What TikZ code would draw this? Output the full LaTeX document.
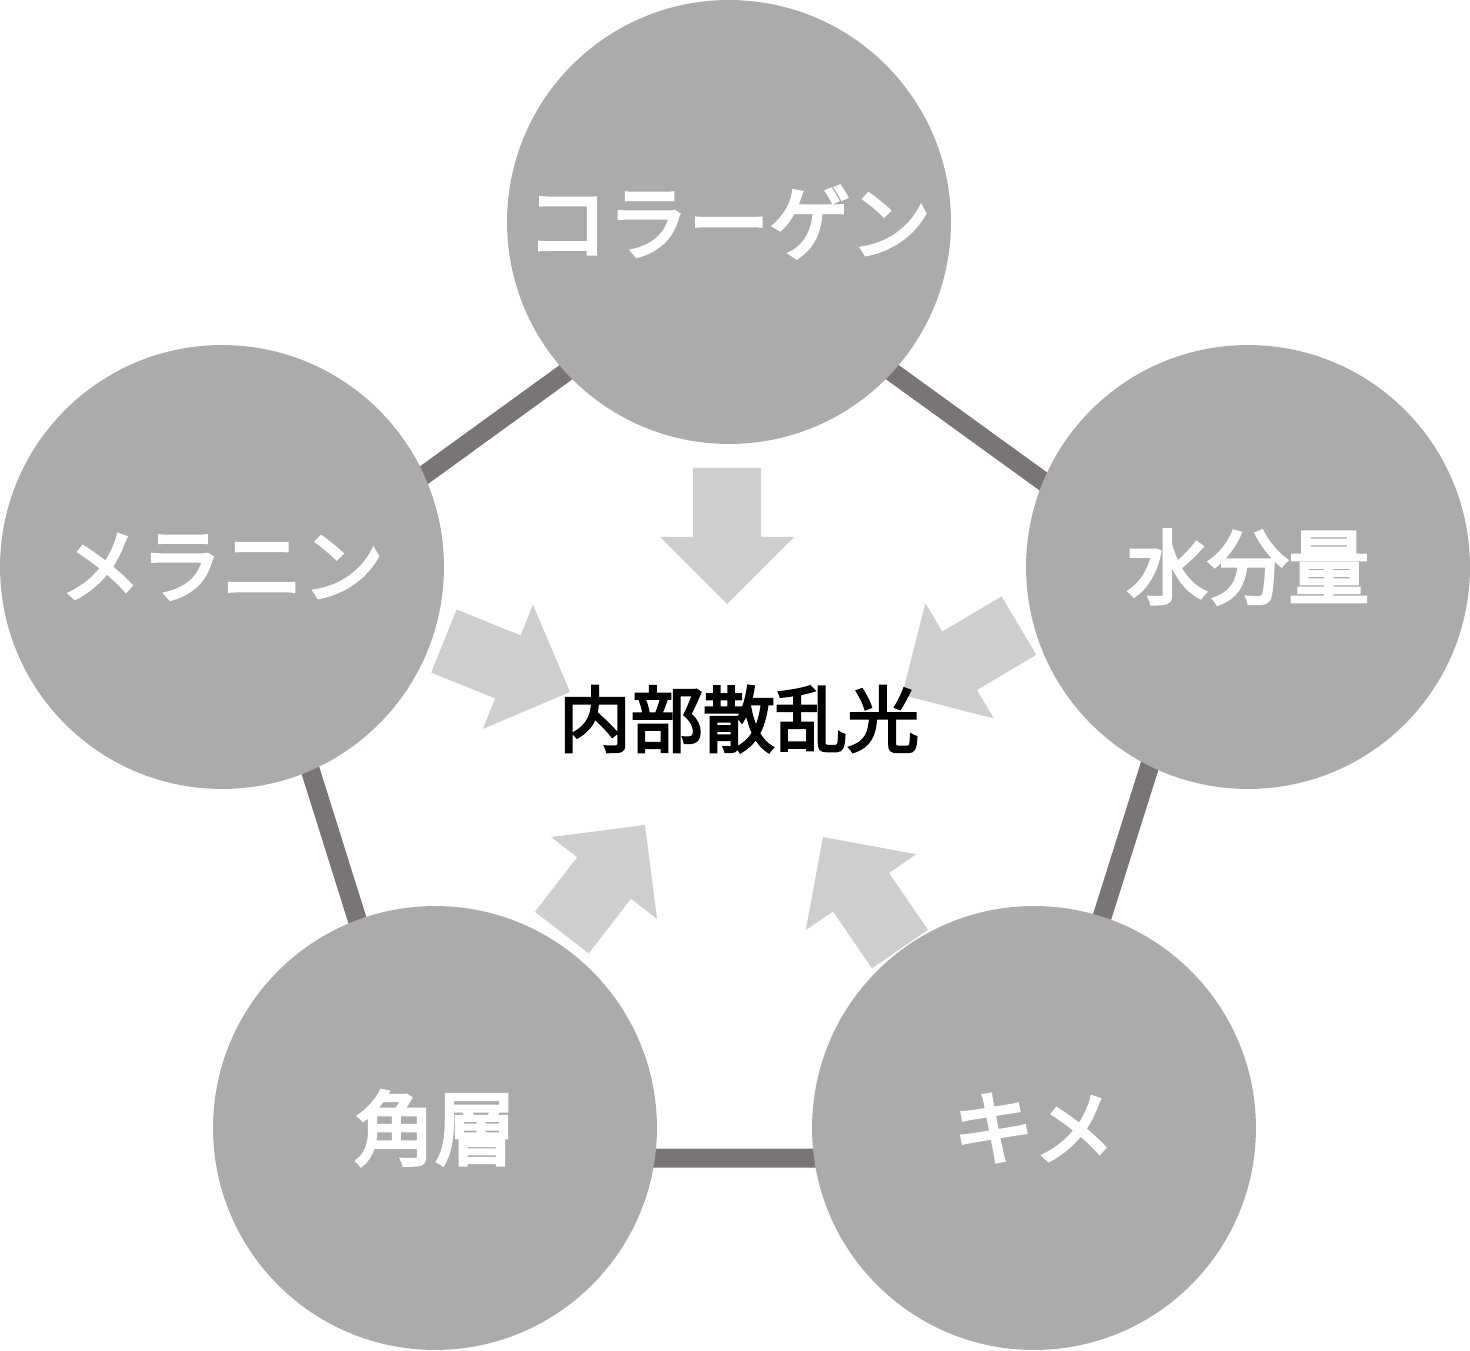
\documentclass[tikz,border=0pt]{standalone}
\usepackage{fontspec}
\newfontfamily\jplab[FakeBold=4]{Noto Sans CJK JP}
\newfontfamily\jpcen[FakeBold=3.5]{Noto Sans CJK JP}
\definecolor{circgray}{HTML}{ADAAAA}
\definecolor{linegray}{HTML}{797475}
\definecolor{arrgray}{HTML}{CFCECF}
\tikzset{
  factor/.style={circle, fill=circgray, minimum size=8.88cm, inner sep=0pt, text=white,
    font=\jplab\fontsize{46}{52}\selectfont},
  edge/.style={draw=linegray, line width=19*0.569pt},
  inarrow/.pic={\fill[arrgray] (0,0) -- (-67,67) -- (-67,34) -- (-136,34) -- (-136,-34) -- (-67,-34) -- (-67,-67) -- cycle;},
}
\begin{document}
\begin{tikzpicture}[x=0.02cm,y=0.02cm]
\useasboundingbox (0,0) rectangle (1470,1350);
% pentagon vertices
\coordinate (pt) at (729,1096);
\coordinate (pl) at (256,753);
\coordinate (pr) at (1203,753);
\coordinate (pbl) at (432,192);
\coordinate (pbr) at (1026,192);
\draw[edge] (pt) -- (pr) -- (pbr) -- (pbl) -- (pl) -- cycle;
% circles
\node[factor] (col) at (729,1128) {コラーゲン};
\node[factor] (mel) at (222,783) {メラニン};
\node[factor] (wat) at (1248,783) {水分量};
\node[factor] (kak) at (435,222) {角層};
\node[factor] (kim) at (1034,222) {キメ};
% arrows
\pic[rotate=-90] at (727,746) {inarrow};
\pic[rotate=-22] at (570,658) {inarrow};
\pic[rotate=210.7] at (902,655) {inarrow};
\pic[rotate=52.3] at (645,525) {inarrow};
\pic[rotate=124.5] at (823,513) {inarrow};
% center text
\node[font=\jpcen\fontsize{41}{46}\selectfont, text=black] (center) at (739,631) {内部散乱光};
\end{tikzpicture}
\end{document}
